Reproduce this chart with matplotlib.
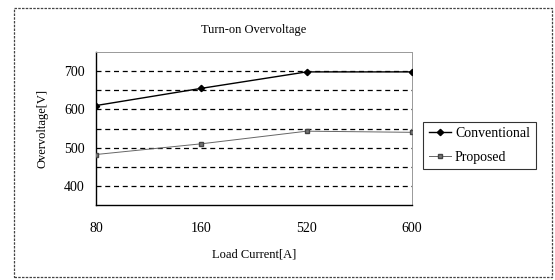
import matplotlib
matplotlib.use("Agg")
import matplotlib.pyplot as plt
from matplotlib.patches import Rectangle

# data
load_current = ["80", "160", "520", "600"]
conventional = [610, 655, 698, 698]
proposed = [482, 510, 543, 540]

plt.rcParams['font.family'] = ['Liberation Serif', 'DejaVu Serif']

fig = plt.figure(figsize=(5.55, 2.8), dpi=100)
fig.patch.set_facecolor('white')

# outer chart border
fig.add_artist(Rectangle((14 / 555, 3 / 280), 538 / 555, 269 / 280, transform=fig.transFigure,
                         fill=False, edgecolor='#444444', linestyle=(0, (2, 1)), linewidth=0.9))

ax = fig.add_axes([96 / 555, 75 / 280, 316 / 555, 153 / 280])
x = range(len(load_current))

for y in range(400, 701, 50):
    ax.axhline(y, color='black', linestyle=(0, (4, 3)), linewidth=0.9, zorder=1)

ax.plot(x, conventional, color='black', linewidth=1.0, marker='D', markersize=3.2, label='Conventional', zorder=3)
ax.plot(x, proposed, color='#666666', linewidth=0.7, marker='s', markersize=3.5,
        markerfacecolor='#777777', markeredgecolor='#444444', label='Proposed', zorder=3)

ax.set_xlim(0, 3)
ax.set_ylim(350, 750)
ax.set_yticks([400, 500, 600, 700])
ax.set_xticks(list(x))
ax.set_xticklabels(load_current)
ax.tick_params(axis='both', length=0, labelsize=10, pad=8)
ax.tick_params(axis='x', pad=12)

for side in ['top', 'right']:
    ax.spines[side].set_color('#999999')
    ax.spines[side].set_linestyle((0, (1, 1)))
    ax.spines[side].set_linewidth(0.7)
for side in ['left', 'bottom']:
    ax.spines[side].set_color('black')
    ax.spines[side].set_linewidth(1.0)

ax.set_title('Turn-on Overvoltage', fontsize=9, pad=14)
ax.set_xlabel('Load Current[A]', fontsize=9, labelpad=10)
ax.set_ylabel('Overvoltage[V]', fontsize=9, labelpad=11)

leg = ax.legend(loc='center left', bbox_to_anchor=(1.035, 0.39), fontsize=10, frameon=True,
                fancybox=False, edgecolor='black', handlelength=1.6, borderpad=0.4,
                labelspacing=0.75, handletextpad=0.3, borderaxespad=0)
leg.get_frame().set_linewidth(0.8)

fig.savefig('out.png', dpi=100)
